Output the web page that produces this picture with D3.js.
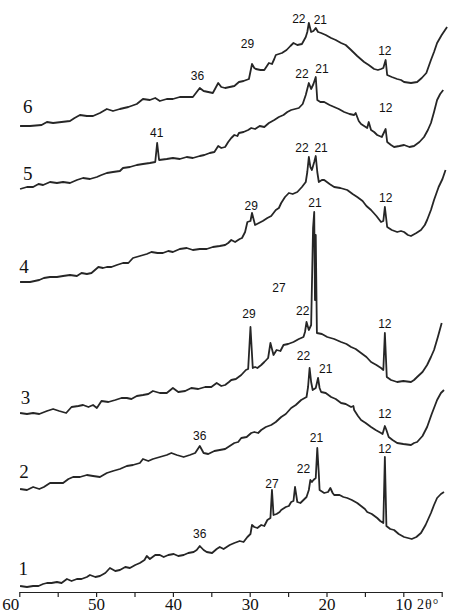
<!DOCTYPE html>
<html>
<head>
<meta charset="utf-8">
<script src="https://cdn.jsdelivr.net/npm/d3@7"></script>
<style>
  html, body { margin: 0; padding: 0; background: #fff; }
  svg { display: block; }
</style>
</head>
<body>
<div id="chart"></div>
<script>
// XRD patterns, [2θ, intensity a.u.], bottom (1) to top (6)
const pattern1 = [[59.9,6],[59.0,5],[58.2,6],[57.5,6],[56.9,8],[56.4,9],[55.8,9],[55.1,10],[54.5,9],[53.8,13],[53.2,11],[52.5,13],[51.9,13],[51.2,15],[50.8,17],[50.1,15],[49.5,16],[48.8,19],[48.2,24],[47.5,21],[46.9,22],[46.2,25],[45.6,24],[44.9,27],[44.3,29],[43.7,32],[43.4,36],[43.0,33],[42.3,37],[41.7,37],[41.2,35],[40.6,37],[39.9,38],[39.3,36],[38.6,37],[38.0,39],[37.3,40],[36.9,42],[36.5,46],[36.0,42],[35.6,40],[34.9,39],[34.3,43],[33.9,45],[33.4,43],
  [32.6,47],[32.0,49],[31.3,51],[30.8,50],[30.3,55],[29.9,58],[29.7,67],[29.4,65],[29.0,64],[28.5,67],[28.1,66],[27.7,72],[27.3,74],[27.1,102],[26.9,77],[26.5,78],[26.1,80],[25.9,82],[25.3,85],[24.9,86],[24.6,90],[24.3,91],[24.1,105],[23.8,90],[23.4,89],[23.0,92],[22.6,95],[22.3,102],[22.1,112],[21.9,110],[21.7,112],[21.4,114],[21.2,144],[21.0,118],[20.9,102],[20.5,100],[20.3,99],[19.8,100],[19.5,104],[19.2,99],[19.0,97],[18.3,97],[17.8,95],[17.3,94],[16.7,92],[16.0,89],[15.5,86],[15.0,83],[14.7,80],[14.1,78],[13.4,74],[13.0,71],[12.6,69],[12.4,135],[12.2,66],[11.7,63],[11.2,62],[10.6,58],[9.9,55],[9.4,54],[8.9,53],[8.3,55],[7.7,59],[7.1,67],[6.4,79],[6.0,87],[5.6,94],[5.1,98],[4.7,100]];
const pattern2 = [[59.9,3],[59.0,2],[58.2,5],[57.4,3],[56.8,5],[56.0,9],[55.1,9],[54.3,9],[53.6,13],[53.0,15],[52.1,15],[51.2,17],[50.4,16],[49.5,15],[48.6,19],[47.8,21],[46.9,23],[46.0,26],[45.2,27],[44.3,29],[43.9,33],[43.2,31],[42.6,33],[41.7,35],[40.8,37],[40.2,39],[39.5,37],[38.6,35],[37.8,37],[37.1,39],[36.5,46],[36.0,39],[35.4,38],[34.6,41],[33.2,43],
  [32.6,46],[32.0,49],[31.5,50],[31.1,54],[30.4,55],[29.8,59],[29.4,60],[28.9,59],[28.5,62],[27.9,65],[27.2,67],[26.6,70],[25.9,75],[25.3,78],[24.6,84],[24.0,87],[23.3,92],[22.6,95],[22.4,105],[22.2,124],[22.0,110],[21.8,102],[21.4,104],[21.1,114],[20.9,104],[20.7,100],[20.1,99],[19.4,95],[18.8,93],[18.1,89],[17.5,88],[16.8,85],[16.5,86],[16.4,82],[15.9,76],[15.5,72],[14.9,69],[14.2,65],[13.6,62],[12.9,59],[12.7,58],[12.4,66],[12.2,62],[11.9,55],[11.4,52],[10.8,49],[10.0,48],[9.0,47],[8.6,49],[8.2,50],[7.5,56],[6.9,65],[6.3,78],[5.6,92],[5.1,99],[4.7,102]];
const pattern3 = [[59.9,4],[59.0,3],[58.2,4],[57.4,3],[56.4,6],[55.6,8],[54.8,6],[53.9,4],[53.2,10],[52.3,11],[51.7,12],[51.0,10],[50.4,12],[49.9,9],[49.3,16],[48.4,15],[47.5,17],[46.7,19],[46.0,19],[45.4,18],[44.7,21],[43.9,22],[43.2,23],[42.6,26],[41.7,24],[40.8,24],[40.0,29],[39.3,25],[38.4,26],[37.6,29],[36.7,28],[35.8,30],[35.0,30],[34.3,34],[33.7,31],[33.2,32],
  [32.7,35],[32.4,37],[31.8,38],[31.1,42],[30.5,47],[30.2,48],[29.9,90],[29.6,49],[29.3,50],[29.0,49],[28.5,52],[28.1,55],[27.6,59],[27.3,74],[26.9,62],[26.5,67],[26.0,66],[25.6,72],[25.0,73],[24.3,75],[23.6,78],[23.0,80],[22.8,85],[22.6,95],[22.3,87],[22.0,92],[21.75,189],[21.6,205],[21.5,117],[21.4,182],[21.25,84],[20.6,83],[19.9,80],[19.0,78],[18.1,75],[17.4,73],[16.8,70],[16.2,68],[15.5,64],[14.8,60],[14.2,55],[13.5,52],[12.9,49],[12.6,47],[12.4,84],[12.15,40],[11.6,37],[10.8,35],[10.0,36],[9.0,35],[8.6,37],[8.2,40],[7.5,45],[6.9,52],[6.4,60],[6.0,67],[5.5,80],[5.0,94]];
const pattern4 = [[59.9,5],[58.6,5],[57.4,7],[56.8,9],[56.0,10],[55.1,10],[54.3,11],[53.4,12],[52.5,11],[51.9,14],[51.2,13],[50.6,14],[49.7,20],[49.1,19],[48.6,20],[48.0,20],[47.3,22],[46.5,24],[45.8,24],[45.2,29],[44.3,31],[43.4,33],[42.8,35],[42.0,34],[41.3,34],[40.6,36],[40.0,35],[39.1,38],[38.2,39],[37.4,37],[36.5,38],[35.6,38],[34.8,40],[33.9,41],[33.2,42],
  [32.8,44],[32.4,47],[31.9,45],[31.7,46],[31.3,48],[31.0,49],[30.6,55],[30.3,65],[29.9,66],[29.7,74],[29.3,62],[28.8,64],[28.3,66],[27.7,69],[27.2,71],[26.6,77],[26.2,79],[25.9,84],[25.4,90],[24.9,94],[24.4,93],[23.8,95],[23.2,100],[22.7,105],[22.5,115],[22.3,130],[22.1,120],[21.9,117],[21.6,125],[21.4,131],[21.2,115],[21.0,105],[20.6,107],[20.3,107],[19.6,103],[19.0,100],[18.2,99],[17.3,97],[16.6,93],[16.0,90],[15.3,86],[14.8,81],[14.2,77],[13.5,71],[12.9,65],[12.6,66],[12.4,80],[12.1,60],[11.5,57],[10.8,55],[10.3,56],[9.9,55],[9.4,52],[9.0,51],[8.3,54],[7.7,57],[7.2,62],[6.9,67],[6.4,77],[6.0,87],[5.4,100],[4.9,108],[4.5,117]];
const pattern5 = [[59.9,3],[59.0,5],[58.2,5],[57.5,8],[56.9,7],[56.0,10],[55.1,9],[54.3,10],[53.4,9],[52.5,12],[51.7,14],[50.8,13],[49.9,15],[49.3,17],[48.6,19],[47.8,20],[46.9,21],[46.5,24],[45.6,25],[44.7,27],[43.9,28],[43.0,29],[42.3,30],[42.05,49],[41.8,32],[40.8,33],[40.0,34],[39.1,33],[38.2,35],[37.4,34],[36.5,36],[35.9,37],[35.2,39],[34.6,40],[34.1,46],[33.7,44],[33.2,45],
  [32.8,50],[32.4,54],[32.0,57],[31.6,56],[31.4,59],[30.8,60],[30.2,62],[29.8,64],[29.3,63],[28.7,66],[28.1,65],[27.5,69],[26.8,72],[26.2,75],[25.6,77],[25.1,80],[24.6,82],[24.1,83],[23.6,84],[23.1,88],[22.7,97],[22.5,103],[22.3,109],[22.0,103],[21.7,108],[21.4,115],[21.2,92],[20.8,90],[20.3,90],[19.6,87],[19.0,85],[18.4,83],[17.7,80],[17.0,78],[16.4,77],[16.2,79],[15.8,71],[15.5,68],[15.1,66],[14.7,64],[14.5,70],[14.2,62],[13.8,60],[13.4,57],[12.8,55],[12.3,63],[12.1,50],[11.6,47],[11.2,45],[10.5,46],[9.9,47],[9.2,45],[8.6,46],[7.9,50],[7.3,55],[6.8,62],[6.4,69],[6.0,80],[5.6,92],[5.2,98],[4.8,102]];
const pattern6 = [[59.9,6],[58.6,6],[57.1,7],[56.4,10],[55.6,9],[54.5,10],[53.4,11],[52.8,14],[52.1,17],[51.2,16],[50.4,16],[49.5,19],[48.6,23],[47.8,21],[46.9,23],[45.8,25],[44.7,28],[43.9,33],[43.0,32],[42.3,34],[41.7,31],[40.8,33],[40.0,33],[39.1,35],[38.2,35],[37.4,35],[36.9,40],[36.5,44],[36.0,41],[35.4,40],[34.8,39],[34.1,49],[33.7,45],[33.2,44],
  [32.6,45],[32.0,46],[31.4,50],[30.8,51],[30.1,53],[29.7,68],[29.4,64],[29.2,63],[28.6,62],[28.1,62],[27.5,69],[27.1,68],[26.8,73],[26.6,77],[25.8,79],[25.2,82],[24.7,86],[24.3,89],[23.8,87],[23.2,88],[22.7,95],[22.5,100],[22.3,109],[22.0,100],[21.7,101],[21.4,104],[21.1,100],[20.7,99],[20.1,97],[19.4,94],[18.8,92],[18.1,89],[17.5,87],[16.8,82],[16.0,76],[15.1,70],[14.5,67],[13.8,63],[13.3,62],[12.9,63],[12.6,64],[12.3,72],[12.1,57],[11.5,55],[10.8,53],[10.3,52],[9.9,50],[9.0,49],[8.2,50],[7.6,54],[7.0,59],[6.4,72],[6.0,80],[5.6,89],[5.0,97],[4.3,105]];

const patterns = [pattern1, pattern2, pattern3, pattern4, pattern5, pattern6];
const offsets = [0, 100, 175, 305, 400, 460];          // vertical stacking, a.u.
const curveNames = ["1", "2", "3", "4", "5", "6"];
const nameTheta = [59.5, 59.4, 59.2, 59.4, 58.9, 58.9];
const nameLevel = [17, 114, 188, 319, 412, 479];

// peak labels: [2θ, level a.u. (stacked), text]
const peakLabels = [
  [36.5, 54, "36"], [27.1, 104, "27"], [23.0, 119, "22"], [21.3, 150, "21"], [12.4, 139, "12"],
  [36.5, 152, "36"], [23.0, 232, "22"], [20.1, 219, "21"], [12.4, 174, "12"],
  [30.1, 274, "29"], [26.2, 300, "27"], [23.1, 277, "22"], [21.5, 385, "21"], [12.4, 264, "12"],
  [29.8, 382, "29"], [23.2, 440, "22"], [20.7, 440, "21"], [12.3, 390, "12"],
  [42.1, 455, "41"], [23.2, 514, "22"], [20.6, 519, "21"], [12.3, 480, "12"],
  [36.8, 512, "36"], [30.3, 544, "29"], [23.6, 569, "22"], [20.8, 568, "21"], [12.4, 537, "12"]
];

const xTicks = d3.range(60, 4, -5);

const width = 449;
const height = 616;
const axisY = 592;

const svg = d3.select("#chart")
    .append("svg")
    .attr("width", width)
    .attr("height", height);

// 2θ runs right to left
const x = d3.scaleLinear()
    .domain([60, 5])
    .range([19.3, 441.7]);

const y = d3.scaleLinear()
    .domain([0, 592])
    .range([axisY, 0]);

const line = d3.line()
    .x(d => x(d[0]))
    .y(d => y(d[1]));

svg.append("g")
    .selectAll("path")
    .data(patterns)
    .join("path")
    .attr("d", (d, i) => line(d.map(p => [p[0], p[1] + offsets[i]])))
    .attr("fill", "none")
    .attr("stroke", "#262626")
    .attr("stroke-width", 1.8)
    .attr("stroke-linejoin", "round");

// curve numbers
svg.append("g")
    .selectAll("text")
    .data(curveNames)
    .join("text")
    .attr("x", (d, i) => x(nameTheta[i]))
    .attr("y", (d, i) => y(nameLevel[i]))
    .attr("text-anchor", "middle")
    .style("font-family", "'Liberation Serif', 'Times New Roman', serif")
    .style("font-size", "19px")
    .attr("fill", "#111")
    .text(d => d);

// peak labels
svg.append("g")
    .selectAll("text")
    .data(peakLabels)
    .join("text")
    .attr("x", d => x(d[0]))
    .attr("y", d => y(d[1]))
    .attr("text-anchor", "middle")
    .style("font-family", "'Liberation Sans', Arial, sans-serif")
    .style("font-size", "12px")
    .attr("fill", "#111")
    .text(d => d[2]);

// bottom axis
const axis = d3.axisBottom(x)
    .tickValues(xTicks)
    .tickSize(5)
    .tickSizeOuter(0)
    .tickFormat(d => d % 10 === 0 ? d : "");

const gx = svg.append("g")
    .attr("transform", `translate(0,${axisY})`)
    .call(axis);

gx.select(".domain").attr("stroke", "#222").attr("stroke-width", 1.2);
gx.selectAll(".tick line").attr("stroke", "#222").attr("stroke-width", 1.2);
gx.selectAll(".tick text")
    .attr("dy", null)
    .attr("y", 18)
    .attr("fill", "#111")
    .style("font-family", "'Liberation Serif', 'Times New Roman', serif")
    .style("font-size", "17px");
gx.selectAll(".tick text").filter(d => d === 60).attr("dx", -9);

svg.append("text")
    .attr("x", 417)
    .attr("y", axisY + 17)
    .style("font-family", "'Liberation Serif', 'Times New Roman', serif")
    .style("font-size", "14px")
    .style("letter-spacing", "1px")
    .attr("fill", "#111")
    .text("2θ°");
</script>
</body>
</html>
